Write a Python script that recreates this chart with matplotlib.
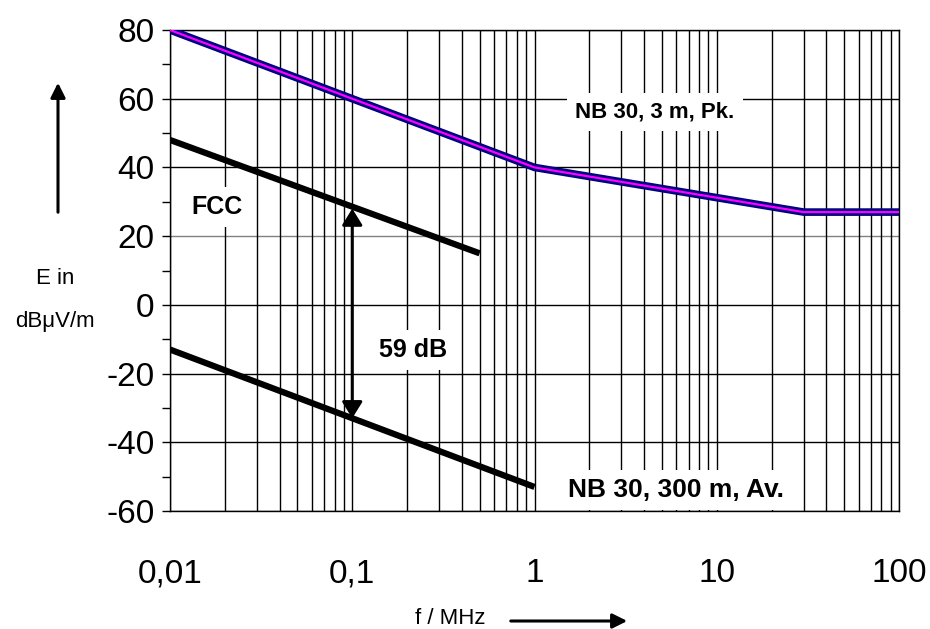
import matplotlib
matplotlib.use("Agg")
import matplotlib.pyplot as plt
from matplotlib.ticker import LogLocator, FixedLocator, MultipleLocator

plt.rcParams['font.family'] = ['Liberation Sans', 'DejaVu Sans']
plt.rcParams['axes.unicode_minus'] = False

# limit lines (f in MHz, E in dBuV/m)
pk_f = [0.01, 1, 30, 100]
pk_e = [80, 40, 27, 27]
fcc_f = [0.01, 0.5]
fcc_e = [48, 15]
av_f = [0.01, 1]
av_e = [-13, -53]

# 59 dB marker between the two lower lines at 0.1 MHz
gap_f = 0.1
gap_top = 28
gap_bot = -33

x_ticks = [0.01, 0.1, 1, 10, 100]
x_labels = ["0,01", "0,1", "1", "10", "100"]
y_ticks = [-60, -40, -20, 0, 20, 40, 60, 80]

W, H = 930, 629
fig = plt.figure(figsize=(W / 100, H / 100), dpi=100)
ax = fig.add_axes([170 / W, 1 - 511 / H, 729 / W, 481 / H])

ax.set_xscale("log")
ax.set_xlim(0.01, 100)
ax.set_ylim(-60, 80)

# grid
ax.xaxis.set_major_locator(FixedLocator(x_ticks))
ax.xaxis.set_minor_locator(LogLocator(base=10, subs=range(2, 10)))
ax.yaxis.set_major_locator(FixedLocator(y_ticks))
ax.yaxis.set_minor_locator(MultipleLocator(10))
ax.grid(True, which="both", axis="x", color="black", lw=1.0)
for y in y_ticks:
    ax.axhline(y, color="#808080" if y == 20 else "black", lw=1.0, zorder=0.5)

ax.set_xticklabels(x_labels)
ax.tick_params(axis="x", which="both", length=0, pad=34, labelsize=24)
ax.tick_params(axis="y", which="both", direction="out", length=6, width=1.0, pad=5, labelsize=24)
for s in ax.spines.values():
    s.set_linewidth(1.0)

# lines
ax.plot(pk_f, pk_e, color="#000080", lw=5.5, solid_capstyle="round", zorder=3)
ax.plot(pk_f, pk_e, color="#FF00FF", lw=1.6, zorder=4)
ax.plot(fcc_f, fcc_e, color="black", lw=4.5, solid_capstyle="butt", zorder=3)
ax.plot(av_f, av_e, color="black", lw=4.5, solid_capstyle="butt", zorder=3)

ax.annotate("", xy=(gap_f, gap_top), xytext=(gap_f, gap_bot),
            arrowprops=dict(arrowstyle="<|-|>,head_width=0.28,head_length=0.45", color="black", lw=2.2,
                            mutation_scale=22, shrinkA=0, shrinkB=0), zorder=4)

box = dict(facecolor="white", edgecolor="none", pad=6)
ax.text(0.0181, 28.5, "FCC", fontsize=18, fontweight="bold", ha="center", va="center", bbox=box, zorder=2)
ax.text(0.215, -13.2, "59 dB", fontsize=18, fontweight="bold", ha="center", va="center", bbox=box, zorder=2)
ax.text(4.58, 56.1, "NB 30, 3 m, Pk.", fontsize=16, fontweight="bold", ha="center", va="center", bbox=box, zorder=2)
ax.text(5.97, -53.9, "NB 30, 300 m, Av.", fontsize=19, fontweight="bold", ha="center", va="center", bbox=box, zorder=2)

# axis labels with arrows
fig.text(55 / W, 1 - 278 / H, "E in", fontsize=16, ha="center", va="center")
fig.text(55 / W, 1 - 321 / H, "dB\u03bcV/m", fontsize=16, ha="center", va="center")
fig.add_artist(matplotlib.patches.FancyArrowPatch(
    (58 / W, 1 - 215 / H), (58 / W, 1 - 80 / H), transform=fig.transFigure,
    arrowstyle="-|>", mutation_scale=22, lw=2.2, color="black"))

fig.text(450 / W, 1 - 618 / H, "f / MHz", fontsize=16, ha="center", va="center")
fig.add_artist(matplotlib.patches.FancyArrowPatch(
    (508 / W, 1 - 621 / H), (630 / W, 1 - 621 / H), transform=fig.transFigure,
    arrowstyle="-|>", mutation_scale=22, lw=2.2, color="black"))

fig.savefig("out.png", dpi=100)
